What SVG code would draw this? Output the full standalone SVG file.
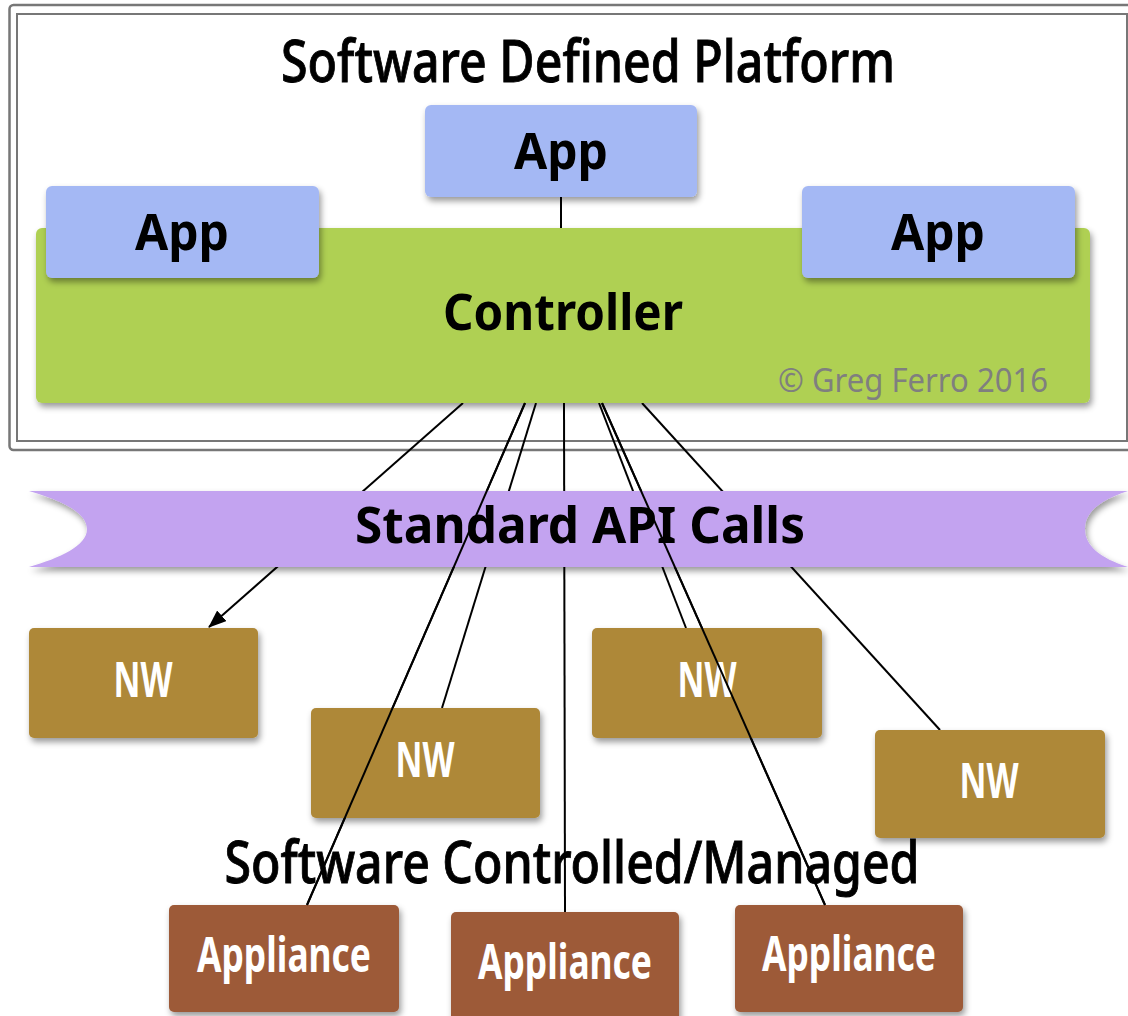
<svg xmlns="http://www.w3.org/2000/svg" width="1128" height="1016" viewBox="0 0 1128 1016">
  <defs>
    <filter id="shadow" x="-10%" y="-20%" width="130%" height="160%">
      <feDropShadow dx="2" dy="4" stdDeviation="3" flood-color="#000" flood-opacity="0.4"/>
    </filter>
    <marker id="arrow" viewBox="0 0 18 14" refX="17" refY="7" markerWidth="18" markerHeight="14" markerUnits="userSpaceOnUse" orient="auto">
      <path d="M0,0 L18,7 L0,14 Z" fill="#000"/>
    </marker>
    <style>
      .frame { fill: none; stroke: #777; }
      .app { fill: #a4b8f4; filter: url(#shadow); }
      .ctrl { fill: #afd053; filter: url(#shadow); }
      .nw { fill: #ae8839; filter: url(#shadow); }
      .appl { fill: #9d5a38; filter: url(#shadow); }
      .api { fill: #c3a3f0; filter: url(#shadow); }
      .heading { font-family: "Noto Sans", "DejaVu Sans", sans-serif; font-size: 58px; font-weight: 500; fill: #000; stroke: #000; stroke-width: 0.9; text-anchor: middle; }
      .lbl { font-family: "Noto Sans", "DejaVu Sans", sans-serif; font-weight: bold; font-size: 50px; fill: #000; text-anchor: middle; }
      .wlbl { font-family: "Noto Sans", "DejaVu Sans", sans-serif; font-weight: bold; font-size: 48px; fill: #fff; text-anchor: middle; }
      .copy { font-family: "Noto Sans", "DejaVu Sans", sans-serif; font-size: 32px; fill: #7f7f7f; }
      .conn { stroke: #000; stroke-width: 2; fill: none; }
    </style>
  </defs>

  <rect width="1128" height="1016" fill="#fff"/>

  <!-- platform frame (double border) -->
  <g id="platform">
    <rect class="frame" x="9.5" y="5" width="1130" height="445" rx="4" stroke-width="2.5"/>
    <rect class="frame" x="17" y="14" width="1110" height="427" stroke-width="2"/>
    <text class="heading" x="588" y="82" textLength="614" lengthAdjust="spacingAndGlyphs">Software Defined Platform</text>
  </g>

  <!-- connectors (drawn beneath the API banner) -->
  <g id="connectors">
    <line class="conn" x1="561" y1="197" x2="561" y2="228"/>
    <line class="conn" x1="463" y1="403" x2="209" y2="627" marker-end="url(#arrow)"/>
    <line class="conn" x1="525" y1="403" x2="307" y2="905"/>
    <line class="conn" x1="536" y1="403" x2="442" y2="708"/>
    <line class="conn" x1="564" y1="403" x2="565" y2="912"/>
    <line class="conn" x1="599" y1="403" x2="686" y2="628"/>
    <line class="conn" x1="602" y1="403" x2="825" y2="905"/>
    <line class="conn" x1="642" y1="403" x2="940" y2="730"/>
  </g>

  <g id="controller">
    <rect class="ctrl" x="36" y="228" width="1054" height="175" rx="6"/>
    <text class="lbl" x="563" y="330" textLength="240" lengthAdjust="spacingAndGlyphs">Controller</text>
    <text class="copy" x="778" y="392" textLength="270" lengthAdjust="spacingAndGlyphs">© Greg Ferro 2016</text>
  </g>

  <g id="app-top">
    <rect class="app" x="425" y="105" width="272" height="92" rx="6"/>
    <text class="lbl" x="561" y="169" textLength="94" lengthAdjust="spacingAndGlyphs">App</text>
  </g>
  <g id="app-left">
    <rect class="app" x="46" y="186" width="273" height="92" rx="6"/>
    <text class="lbl" x="182" y="250" textLength="94" lengthAdjust="spacingAndGlyphs">App</text>
  </g>
  <g id="app-right">
    <rect class="app" x="802" y="186" width="273" height="92" rx="6"/>
    <text class="lbl" x="938" y="250" textLength="94" lengthAdjust="spacingAndGlyphs">App</text>
  </g>

  <g id="api-calls">
    <path class="api" d="M29,491 L1128,491 C1100,500 1085,512 1085,529 C1085,546 1100,558 1128,567 L29,567 C60,558 87,546 87,529 C87,512 60,500 29,491 Z"/>
    <text class="lbl" x="580" y="543" textLength="450" lengthAdjust="spacingAndGlyphs">Standard API Calls</text>
  </g>

  <g id="nw-1">
    <rect class="nw" x="29" y="628" width="229" height="110" rx="5"/>
    <text class="wlbl" x="143" y="697" textLength="59" lengthAdjust="spacingAndGlyphs">NW</text>
  </g>
  <g id="nw-2">
    <rect class="nw" x="311" y="708" width="229" height="110" rx="5"/>
    <text class="wlbl" x="425" y="777" textLength="59" lengthAdjust="spacingAndGlyphs">NW</text>
  </g>
  <g id="nw-3">
    <rect class="nw" x="592" y="628" width="230" height="110" rx="5"/>
    <text class="wlbl" x="707" y="697" textLength="59" lengthAdjust="spacingAndGlyphs">NW</text>
  </g>
  <g id="nw-4">
    <rect class="nw" x="875" y="730" width="230" height="108" rx="5"/>
    <text class="wlbl" x="989" y="798" textLength="59" lengthAdjust="spacingAndGlyphs">NW</text>
  </g>

  <text id="managed-label" class="heading" x="572" y="883" textLength="695" lengthAdjust="spacingAndGlyphs">Software Controlled/Managed</text>

  <g id="appliance-1">
    <rect class="appl" x="169" y="905" width="230" height="107" rx="5"/>
    <text class="wlbl" x="284" y="972" textLength="174" lengthAdjust="spacingAndGlyphs">Appliance</text>
  </g>
  <g id="appliance-2">
    <rect class="appl" x="451" y="912" width="228" height="110" rx="5"/>
    <text class="wlbl" x="565" y="979" textLength="174" lengthAdjust="spacingAndGlyphs">Appliance</text>
  </g>
  <g id="appliance-3">
    <rect class="appl" x="735" y="905" width="228" height="107" rx="5"/>
    <text class="wlbl" x="849" y="971" textLength="174" lengthAdjust="spacingAndGlyphs">Appliance</text>
  </g>

  <!-- connector overlays that run across the lower boxes -->
  <g id="connector-overlays">
    <line class="conn" x1="525" y1="403" x2="307" y2="905"/>
    <line class="conn" x1="602" y1="403" x2="825" y2="905"/>
  </g>
</svg>
